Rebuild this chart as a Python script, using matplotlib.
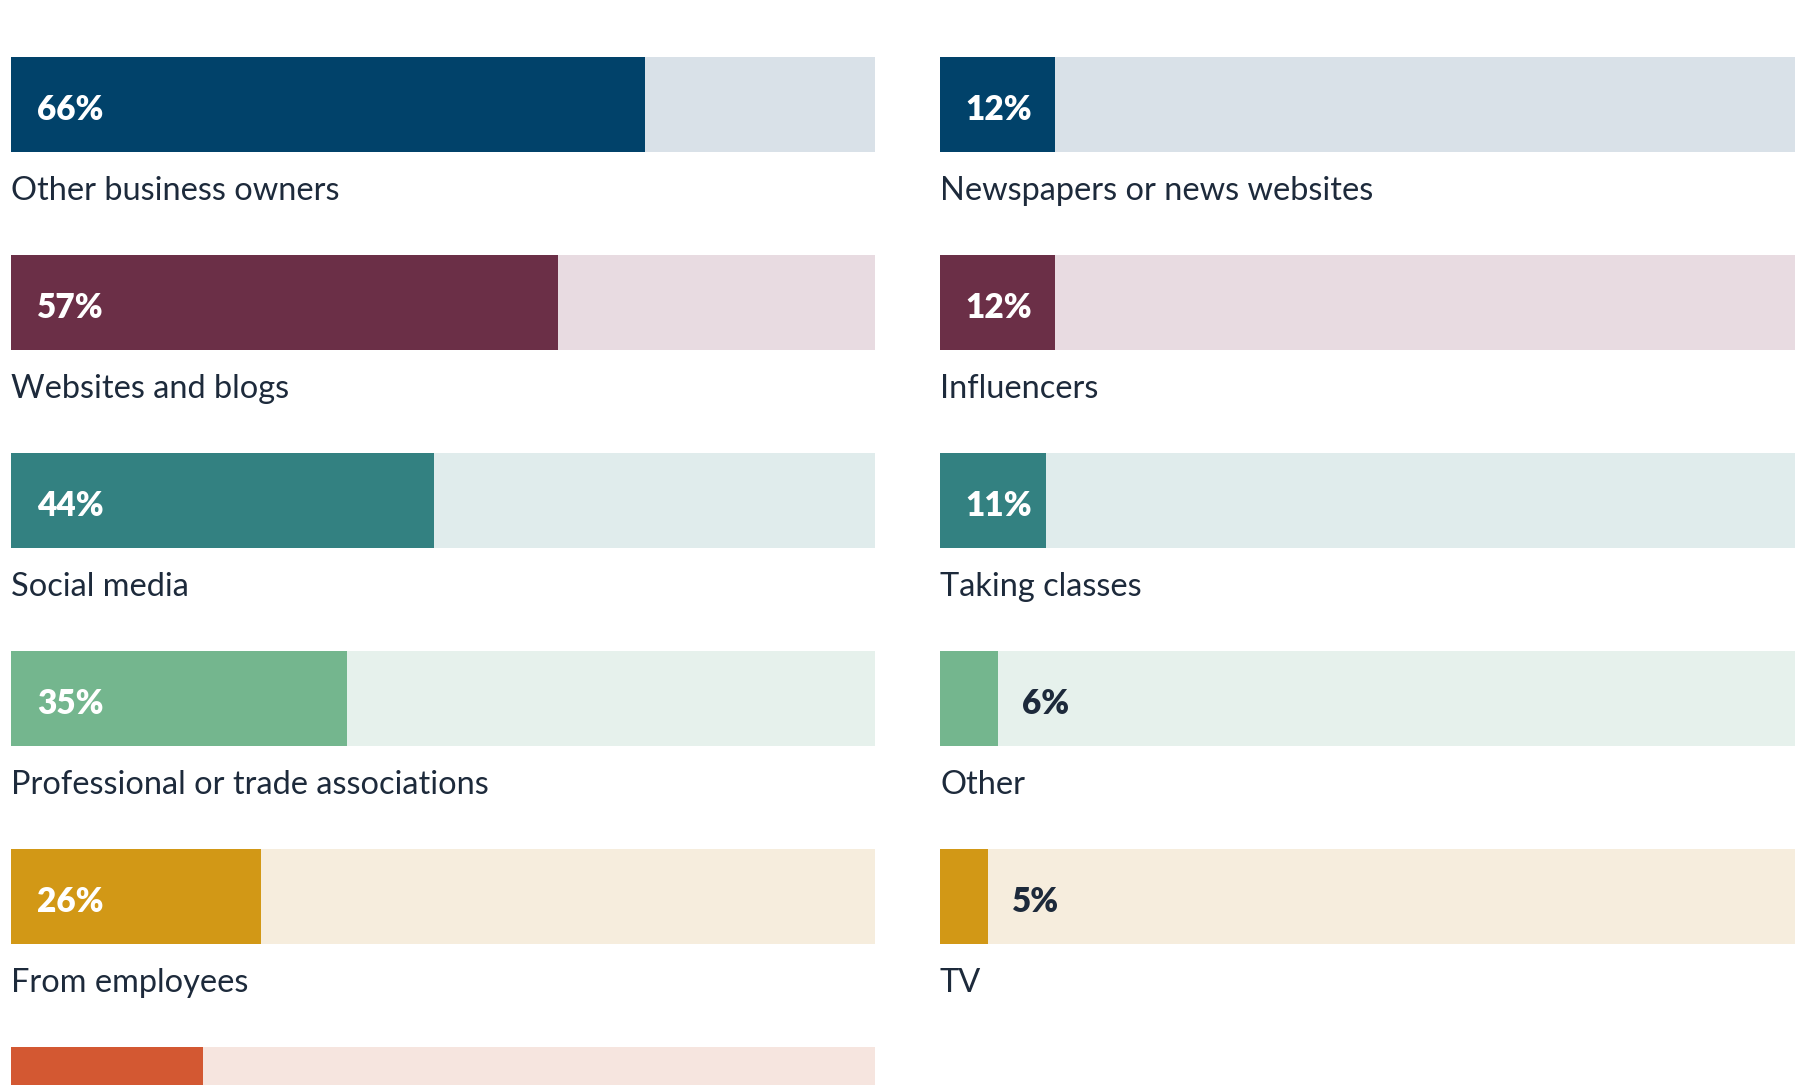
import matplotlib.pyplot as plt

plt.rcParams['font.family'] = ['Lato', 'DejaVu Sans']

# left column
left_labels = ['Other business owners', 'Websites and blogs', 'Social media',
               'Professional or trade associations', 'From employees', '']
left_values = [66, 57, 44, 35, 26, 20]

# right column
right_labels = ['Newspapers or news websites', 'Influencers', 'Taking classes',
                'Other', 'TV']
right_values = [12, 12, 11, 6, 5]

dark = ['#01426a', '#6b2f47', '#338181', '#74b68e', '#d29816', '#d35832']
light = ['#d9e1e8', '#e8dbe1', '#e0ecec', '#e6f1ec', '#f6eddd', '#f6e5df']
text_color = '#1d2a3b'

W, H = 1795, 1085
XMAX = 90
ROW = 198.0
fig = plt.figure(figsize=(W / 100, H / 100), dpi=100)

top_px = 57.2 + 47.5  # centre of the first bar
ylim = (H / ROW - top_px / ROW, -top_px / ROW)


def column(x0, labels, values):
    ax = fig.add_axes([x0 / W, 0, 863.6 / W, 1])
    ax.set_xlim(0, XMAX)
    ax.set_ylim(*ylim)
    ax.axis('off')
    for i, (lab, v) in enumerate(zip(labels, values)):
        ax.barh(i, XMAX, height=95 / ROW, color=light[i], linewidth=0)
        ax.barh(i, v, height=95 / ROW, color=dark[i], linewidth=0)
        if v >= 9:
            ax.annotate(f'{v}%', (0, i), xytext=(18.5, -3.8), textcoords='offset points',
                        ha='left', va='center', fontsize=24, fontweight='heavy',
                        color='white')
        else:
            ax.annotate(f'{v}%', (v, i), xytext=(17.5, -3.8), textcoords='offset points',
                        ha='left', va='center', fontsize=24, fontweight='heavy',
                        color=text_color)
        ax.text(0, i + 0.435, lab, ha='left', va='center', fontsize=23.4,
                color=text_color)


column(11.4, left_labels, left_values)
column(940, right_labels, right_values)

fig.savefig('out.png', dpi=100)
